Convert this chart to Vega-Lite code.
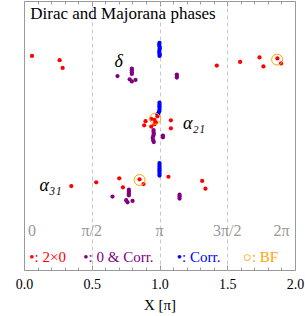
{
  "$schema": "https://vega.github.io/schema/vega-lite/v6.json",
  "width": 271,
  "height": 269,
  "autosize": "none",
  "padding": {"left": 24, "top": 1, "right": 10, "bottom": 46},
  "config": {"view": {"stroke": "#9a9a9a", "strokeWidth": 1}, "font": "Liberation Serif"},
  "datasets": {
    "pts": [
      {"x": 0.059, "y": 3.58, "cat": "2x0"}, {"x": 0.263, "y": 3.51, "cat": "2x0"}, {"x": 0.285, "y": 3.38, "cat": "2x0"},
      {"x": 1.423, "y": 3.42, "cat": "2x0"}, {"x": 1.595, "y": 3.48, "cat": "2x0"}, {"x": 1.738, "y": 3.555, "cat": "2x0"},
      {"x": 1.767, "y": 3.405, "cat": "2x0"}, {"x": 1.870, "y": 3.54, "cat": "2x0"}, {"x": 1.897, "y": 3.455, "cat": "2x0"},
      {"x": 0.69, "y": 3.245, "cat": "0c"}, {"x": 0.796, "y": 3.37, "cat": "0c"}, {"x": 0.796, "y": 3.34, "cat": "0c"},
      {"x": 0.796, "y": 3.31, "cat": "0c"}, {"x": 0.796, "y": 3.28, "cat": "0c"}, {"x": 0.78, "y": 3.19, "cat": "0c"},
      {"x": 0.796, "y": 3.155, "cat": "0c"}, {"x": 0.823, "y": 3.18, "cat": "0c"}, {"x": 1.128, "y": 3.27, "cat": "0c"},
      {"x": 1.128, "y": 3.245, "cat": "0c"}, {"x": 1.128, "y": 3.22, "cat": "0c"},
      {"x": 1.0, "y": 3.80, "cat": "corr"}, {"x": 0.998, "y": 3.77, "cat": "corr"}, {"x": 1.0, "y": 3.74, "cat": "corr"},
      {"x": 1.002, "y": 3.71, "cat": "corr"}, {"x": 1.0, "y": 3.68, "cat": "corr"}, {"x": 0.998, "y": 3.65, "cat": "corr"},
      {"x": 1.0, "y": 3.62, "cat": "corr"}, {"x": 1.002, "y": 3.60, "cat": "corr"}, {"x": 1.0, "y": 3.58, "cat": "corr"},
      {"x": 1.0, "y": 2.80, "cat": "corr"}, {"x": 1.0, "y": 2.77, "cat": "corr"}, {"x": 1.0, "y": 2.74, "cat": "corr"},
      {"x": 1.0, "y": 2.71, "cat": "corr"}, {"x": 1.0, "y": 2.68, "cat": "corr"}, {"x": 0.998, "y": 2.65, "cat": "corr"},
      {"x": 0.99, "y": 2.62, "cat": "corr"}, {"x": 0.985, "y": 2.60, "cat": "corr"},
      {"x": 1.0, "y": 1.79, "cat": "corr"}, {"x": 1.0, "y": 1.76, "cat": "corr"}, {"x": 1.0, "y": 1.73, "cat": "corr"},
      {"x": 1.0, "y": 1.70, "cat": "corr"}, {"x": 1.0, "y": 1.67, "cat": "corr"}, {"x": 1.0, "y": 1.64, "cat": "corr"},
      {"x": 1.0, "y": 1.61, "cat": "corr"}, {"x": 1.0, "y": 1.58, "cat": "corr"},
      {"x": 0.897, "y": 2.49, "cat": "2x0"}, {"x": 0.887, "y": 2.42, "cat": "2x0"}, {"x": 0.939, "y": 2.53, "cat": "2x0"},
      {"x": 0.963, "y": 2.51, "cat": "2x0"}, {"x": 0.973, "y": 2.47, "cat": "2x0"}, {"x": 0.963, "y": 2.44, "cat": "2x0"},
      {"x": 0.939, "y": 2.40, "cat": "2x0"}, {"x": 0.985, "y": 2.57, "cat": "2x0"}, {"x": 1.084, "y": 2.505, "cat": "2x0"},
      {"x": 1.084, "y": 2.37, "cat": "2x0"},
      {"x": 0.956, "y": 2.34, "cat": "0c"}, {"x": 0.956, "y": 2.31, "cat": "0c"}, {"x": 0.958, "y": 2.28, "cat": "0c"},
      {"x": 0.955, "y": 2.25, "cat": "0c"}, {"x": 0.95, "y": 2.21, "cat": "0c"}, {"x": 0.953, "y": 2.17, "cat": "0c"},
      {"x": 0.958, "y": 2.14, "cat": "0c"}, {"x": 1.025, "y": 2.25, "cat": "0c"}, {"x": 1.025, "y": 2.22, "cat": "0c"},
      {"x": 0.349, "y": 1.405, "cat": "2x0"}, {"x": 0.533, "y": 1.467, "cat": "2x0"}, {"x": 0.703, "y": 1.533, "cat": "2x0"},
      {"x": 0.730, "y": 1.383, "cat": "2x0"}, {"x": 0.853, "y": 1.517, "cat": "2x0"}, {"x": 0.882, "y": 1.438, "cat": "2x0"},
      {"x": 1.066, "y": 1.56, "cat": "2x0"}, {"x": 1.315, "y": 1.49, "cat": "2x0"}, {"x": 1.339, "y": 1.36, "cat": "2x0"},
      {"x": 0.653, "y": 1.228, "cat": "0c"}, {"x": 0.774, "y": 1.345, "cat": "0c"}, {"x": 0.774, "y": 1.315, "cat": "0c"},
      {"x": 0.774, "y": 1.285, "cat": "0c"}, {"x": 0.774, "y": 1.25, "cat": "0c"}, {"x": 0.754, "y": 1.167, "cat": "0c"},
      {"x": 0.764, "y": 1.133, "cat": "0c"}, {"x": 0.801, "y": 1.155, "cat": "0c"}, {"x": 1.148, "y": 1.26, "cat": "0c"},
      {"x": 1.148, "y": 1.23, "cat": "0c"}, {"x": 1.148, "y": 1.195, "cat": "0c"}
    ],
    "bf": [
      {"x": 1.868, "y": 3.52, "cat": "bf"},
      {"x": 0.968, "y": 2.53, "cat": "bf"},
      {"x": 0.853, "y": 1.505, "cat": "bf"}
    ],
    "txt": [
      {"x": 0.046, "y": 4.28, "text": "Dirac and Majorana phases", "cat": "black", "kind": "title"},
      {"x": 0.698, "y": 3.48, "text": "δ", "cat": "black", "kind": "label"},
      {"x": 1.254, "y": 2.44, "text": "α₂₁", "cat": "black", "kind": "label"},
      {"x": 0.196, "y": 1.41, "text": "α₃₁", "cat": "black", "kind": "label"},
      {"x": 0.059, "y": 0.655, "text": "0", "cat": "gray", "kind": "tick"},
      {"x": 0.5, "y": 0.655, "text": "π/2", "cat": "gray", "kind": "tick"},
      {"x": 1.0, "y": 0.655, "text": "π", "cat": "gray", "kind": "tick"},
      {"x": 1.5, "y": 0.655, "text": "3π/2", "cat": "gray", "kind": "tick"},
      {"x": 1.9, "y": 0.655, "text": "2π", "cat": "gray", "kind": "tick"},
      {"x": 0.039, "y": 0.22, "text": "•: 2×0", "cat": "2x0", "kind": "legend"},
      {"x": 0.438, "y": 0.22, "text": "•: 0 & Corr.", "cat": "0c", "kind": "legend"},
      {"x": 1.128, "y": 0.22, "text": "•: Corr.", "cat": "corr", "kind": "legend"},
      {"x": 1.615, "y": 0.22, "text": "○: BF", "cat": "bf", "kind": "legend"}
    ]
  },
  "layer": [
    {
      "data": {"name": "pts"},
      "mark": {"type": "circle", "size": 18, "opacity": 1},
      "encoding": {
        "x": {
          "field": "x", "type": "quantitative",
          "scale": {"domain": [0, 2], "nice": false, "zero": false},
          "axis": {
            "orient": "bottom",
            "values": [0, 0.1, 0.2, 0.3, 0.4, 0.5, 0.6, 0.7, 0.8, 0.9, 1.0, 1.1, 1.2, 1.3, 1.4, 1.5, 1.6, 1.7, 1.8, 1.9, 2.0],
            "title": "X [π]",
            "titleFont": "Liberation Serif", "titleFontSize": 15, "titleFontWeight": "normal", "titleColor": "#000000",
            "titlePadding": 4,
            "labelExpr": "abs(datum.value*2 - round(datum.value*2)) < 0.001 ? format(datum.value, '.1f') : ''",
            "labelFont": "Liberation Serif", "labelFontSize": 14, "labelColor": "#000000",
            "labelOverlap": false, "labelFlush": false, "labelPadding": 12,
            "tickSize": {"condition": {"test": "abs(datum.value*2 - round(datum.value*2)) < 0.001", "value": -5}, "value": -3},
            "tickColor": "#9a9a9a",
            "domain": false,
            "grid": true,
            "gridColor": "#c8c8c8",
            "gridDash": [4, 3],
            "gridOpacity": {"condition": {"test": "datum.value > 0.01 && datum.value < 1.99 && abs(datum.value*2 - round(datum.value*2)) < 0.001", "value": 1}, "value": 0}
          }
        },
        "y": {
          "field": "y", "type": "quantitative",
          "scale": {"domain": [0, 4.5], "nice": false, "zero": false},
          "axis": {
            "values": [1, 2, 3, 4], "labels": false, "ticks": false, "domain": false,
            "grid": true, "gridColor": "#9a9a9a",
            "title": "Observables X", "titleFont": "Liberation Serif", "titleFontSize": 15,
            "titleFontWeight": "normal", "titleColor": "#000000", "titlePadding": 5
          }
        },
        "color": {
          "field": "cat", "type": "nominal",
          "scale": {"domain": ["2x0", "0c", "corr", "bf", "black", "gray"], "range": ["#ff0000", "#800080", "#0000ff", "#ffa500", "#000000", "#999999"]},
          "legend": null
        }
      }
    },
    {
      "data": {"name": "bf"},
      "mark": {"type": "point", "shape": "circle", "filled": false, "size": 120, "strokeWidth": 1, "opacity": 1},
      "encoding": {
        "x": {"field": "x", "type": "quantitative", "axis": null},
        "y": {"field": "y", "type": "quantitative", "axis": null},
        "color": {"field": "cat", "type": "nominal", "legend": null}
      }
    },
    {
      "data": {"name": "txt"},
      "transform": [{"filter": "datum.kind === 'title'"}],
      "mark": {"type": "text", "align": "left", "baseline": "middle", "fontSize": 17, "font": "Liberation Serif"},
      "encoding": {
        "x": {"field": "x", "type": "quantitative", "axis": null},
        "y": {"field": "y", "type": "quantitative", "axis": null},
        "text": {"field": "text"},
        "color": {"field": "cat", "type": "nominal", "legend": null}
      }
    },
    {
      "data": {"name": "txt"},
      "transform": [{"filter": "datum.kind === 'label'"}],
      "mark": {"type": "text", "align": "center", "baseline": "middle", "fontSize": 18, "fontStyle": "italic", "font": "Liberation Serif"},
      "encoding": {
        "x": {"field": "x", "type": "quantitative", "axis": null},
        "y": {"field": "y", "type": "quantitative", "axis": null},
        "text": {"field": "text"},
        "color": {"field": "cat", "type": "nominal", "legend": null}
      }
    },
    {
      "data": {"name": "txt"},
      "transform": [{"filter": "datum.kind === 'tick'"}],
      "mark": {"type": "text", "align": "center", "baseline": "middle", "fontSize": 16, "font": "Liberation Serif"},
      "encoding": {
        "x": {"field": "x", "type": "quantitative", "axis": null},
        "y": {"field": "y", "type": "quantitative", "axis": null},
        "text": {"field": "text"},
        "color": {"field": "cat", "type": "nominal", "legend": null}
      }
    },
    {
      "data": {"name": "txt"},
      "transform": [{"filter": "datum.kind === 'legend'"}],
      "mark": {"type": "text", "align": "left", "baseline": "middle", "fontSize": 15, "font": "Liberation Serif"},
      "encoding": {
        "x": {
          "field": "x", "type": "quantitative",
          "axis": {
            "orient": "top",
            "values": [0, 0.1, 0.2, 0.3, 0.4, 0.5, 0.6, 0.7, 0.8, 0.9, 1.0, 1.1, 1.2, 1.3, 1.4, 1.5, 1.6, 1.7, 1.8, 1.9, 2.0],
            "labels": false, "title": null, "domain": false, "grid": false,
            "tickSize": {"condition": {"test": "abs(datum.value*2 - round(datum.value*2)) < 0.001", "value": -5}, "value": -3},
            "tickColor": "#9a9a9a"
          }
        },
        "y": {"field": "y", "type": "quantitative", "axis": null},
        "text": {"field": "text"},
        "color": {"field": "cat", "type": "nominal", "legend": null}
      }
    }
  ],
  "resolve": {"axis": {"x": "independent"}}
}
